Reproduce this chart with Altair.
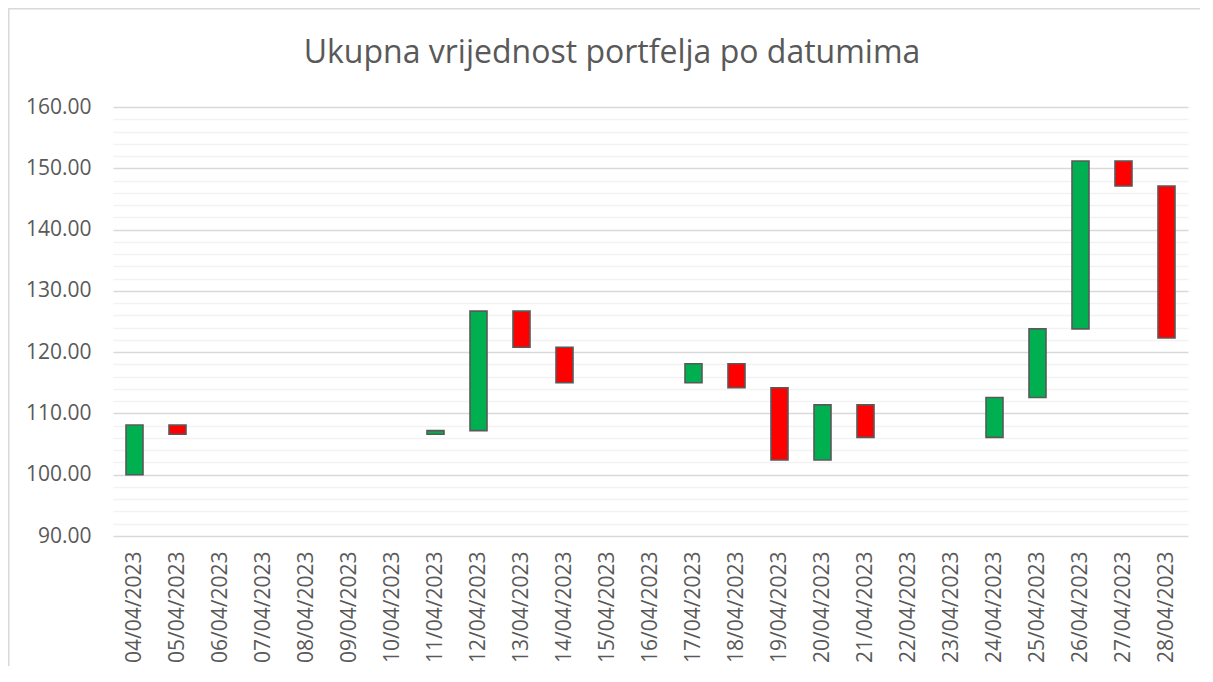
import altair as alt
import pandas as pd

title_text = "Ukupna vrijednost portfelja po datumima"
dates = ["04/04/2023", "05/04/2023", "06/04/2023", "07/04/2023", "08/04/2023",
         "09/04/2023", "10/04/2023", "11/04/2023", "12/04/2023", "13/04/2023",
         "14/04/2023", "15/04/2023", "16/04/2023", "17/04/2023", "18/04/2023",
         "19/04/2023", "20/04/2023", "21/04/2023", "22/04/2023", "23/04/2023",
         "24/04/2023", "25/04/2023", "26/04/2023", "27/04/2023", "28/04/2023"]
open_vals = [100.0, 108.1, None, None, None, None, None, 106.6, 107.2, 126.7,
             120.8, None, None, 115.0, 118.1, 114.2, 102.4, 111.4, None, None,
             106.1, 112.6, 123.8, 151.2, 147.1]
close_vals = [108.1, 106.6, None, None, None, None, None, 107.2, 126.7, 120.8,
              115.0, None, None, 118.1, 114.2, 102.4, 111.4, 106.1, None, None,
              112.6, 123.8, 151.2, 147.1, 122.3]
major_ticks = [90, 100, 110, 120, 130, 140, 150, 160]
minor_ticks = [v for v in range(90, 161, 2) if v % 10 != 0]

rows = []
for d, o, c in zip(dates, open_vals, close_vals):
    if o is None or c is None:
        continue
    rows.append({"datum": d, "open": o, "close": c,
                 "smjer": "rast" if c >= o else "pad"})
df = pd.DataFrame(rows)

FONT = "Open Sans"
TXT = "#595959"

x_enc = alt.X("datum:N", scale=alt.Scale(domain=dates, paddingInner=0, paddingOuter=0),
              axis=alt.Axis(title=None, labelAngle=-90, labelFontSize=21, labelColor=TXT,
                            labelFont=FONT, ticks=False, domain=False, grid=False,
                            labelPadding=15, labelAlign="right", labelBaseline="middle"))
y_scale = alt.Scale(domain=[90, 160], nice=False, zero=False)

base = alt.Chart(df)

minor = base.mark_bar(opacity=0).encode(
    x=x_enc,
    y=alt.Y("open:Q", scale=y_scale,
            axis=alt.Axis(orient="right", values=minor_ticks, labels=False, ticks=False,
                          domain=False, grid=True, gridColor="#f2f2f2", gridWidth=1.3,
                          title=None)),
    y2="close:Q",
)

bars = base.mark_bar(size=17, stroke="#595959", strokeWidth=1.6).encode(
    x=x_enc,
    y=alt.Y("open:Q", scale=y_scale,
            axis=alt.Axis(values=major_ticks, format=".2f", labelFontSize=21,
                          labelColor=TXT, labelFont=FONT, ticks=False, domain=False,
                          grid=True, gridColor="#d9d9d9", gridWidth=1.3,
                          labelPadding=22, title=None)),
    y2="close:Q",
    color=alt.Color("smjer:N", scale=alt.Scale(domain=["rast", "pad"],
                                               range=["#00B050", "#FF0000"]),
                    legend=None),
)

border = alt.Chart(pd.DataFrame({"k": [0]})).mark_rect(
    fill="transparent", stroke="#d9d9d9", strokeWidth=1.5
).encode(x=alt.value(-104.2), x2=alt.value(1300), y=alt.value(-98.2), y2=alt.value(800))

title = alt.Chart(pd.DataFrame({"t": [title_text]})).mark_text(
    font=FONT, fontSize=32, color=TXT, align="center", baseline="alphabetic"
).encode(text="t:N", x=alt.value(499), y=alt.value(-43.7))

chart = alt.layer(border, minor, bars, title).resolve_axis(y="independent").properties(
    width=1075,
    height=429,
    padding={"left": 105, "top": 99, "right": 12, "bottom": 130},
    autosize=alt.AutoSizeParams(type="none"),
    background="white",
).configure_view(stroke=None)

chart.save("out.html", embed_options={"renderer": "svg", "actions": False})
